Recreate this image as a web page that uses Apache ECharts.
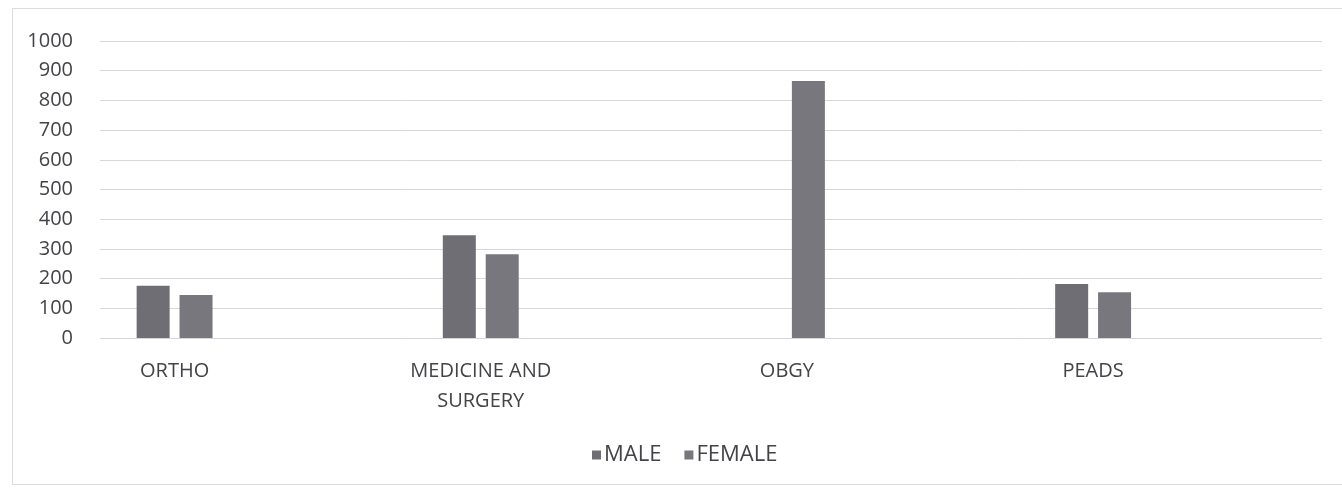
<!DOCTYPE html>
<html>
<head>
<meta charset="utf-8">
<script src="https://cdn.jsdelivr.net/npm/echarts@6/dist/echarts.min.js"></script>
<style>
  html, body { margin: 0; padding: 0; background: #ffffff; }
  #frame { position: absolute; left: 12px; top: 8px; width: 1340px; height: 477px; border: 1px solid #dcdce0; box-sizing: border-box; }
  #chart { position: absolute; left: 0; top: 0; width: 1342px; height: 489px; }
</style>
</head>
<body>
<div id="frame"></div>
<div id="chart"></div>
<script>
const categories = ['ORTHO', 'MEDICINE AND\nSURGERY', 'OBGY', 'PEADS'];
const maleValues = [176, 346, 0, 182];
const femaleValues = [145, 282, 865, 154];
const seriesNames = ['MALE', 'FEMALE'];

const textColor = '#434348';
const font = 'Open Sans';

const chart = echarts.init(document.getElementById('chart'), null, { renderer: 'canvas' });
chart.setOption({
  animation: false,
  backgroundColor: 'transparent',
  textStyle: { fontFamily: font },
  legend: {
    data: seriesNames,
    left: 587,
    top: 439,
    itemWidth: 9,
    itemHeight: 9,
    itemGap: 23,
    icon: 'rect',
    textStyle: { color: textColor, fontSize: 22, fontFamily: font, padding: [0, 0, 0, -2] }
  },
  grid: [
    { left: 100, right: 20, top: 41, height: 297 },
    { left: 21.5, width: 1224.7, top: 41, height: 297 }
  ],
  xAxis: [
    { gridIndex: 0, type: 'category', data: categories, show: false },
    {
      gridIndex: 1, type: 'category', data: categories,
      axisLine: { show: false }, axisTick: { show: false },
      axisLabel: { color: textColor, fontSize: 20, fontFamily: font, margin: 18, lineHeight: 30, interval: 0 }
    }
  ],
  yAxis: [
    {
      gridIndex: 0, type: 'value', min: 0, max: 1000, interval: 100,
      axisLine: { show: false }, axisTick: { show: false },
      axisLabel: { color: textColor, fontSize: 20, fontFamily: font, margin: 27, formatter: v => String(v) },
      splitLine: { lineStyle: { color: '#d6d6de', width: 1 } }
    },
    {
      gridIndex: 1, type: 'value', min: 0, max: 1000, interval: 100, show: false,
      splitLine: { show: false }
    }
  ],
  series: [
    {
      name: seriesNames[0], type: 'bar', xAxisIndex: 1, yAxisIndex: 1,
      data: maleValues, barWidth: 33, barGap: '30%',
      itemStyle: { color: '#6f6e75' }
    },
    {
      name: seriesNames[1], type: 'bar', xAxisIndex: 1, yAxisIndex: 1,
      data: femaleValues, barWidth: 33, barGap: '30%',
      itemStyle: { color: '#78777d' }
    }
  ]
});
</script>
</body>
</html>
